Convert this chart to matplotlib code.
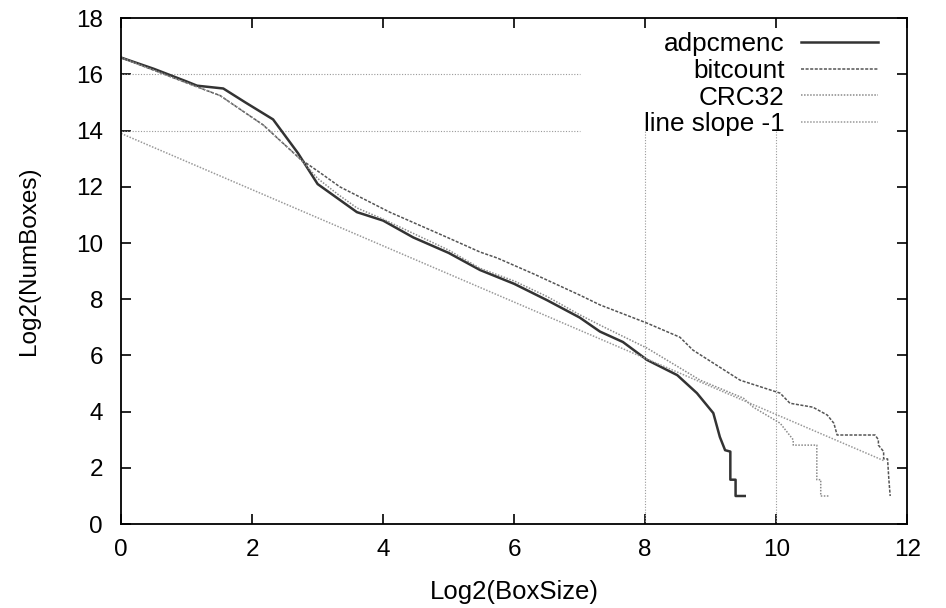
import matplotlib.pyplot as plt

plt.rcParams['font.family'] = ['Liberation Sans', 'DejaVu Sans']

# values
adpcmenc_x = [0, 0.5, 1.0, 1.16, 1.56, 1.9, 2.32, 2.7, 3.0, 3.3, 3.6, 4.0, 4.46, 5.0,
              5.48, 6.0, 6.5, 7.0, 7.31, 7.66, 8.03, 8.49, 8.79, 9.04, 9.14, 9.22,
              9.3, 9.3, 9.38, 9.38, 9.52]
adpcmenc_y = [16.6, 16.2, 15.75, 15.6, 15.5, 15.0, 14.4, 13.2, 12.1, 11.6, 11.1, 10.8,
              10.2, 9.65, 9.04, 8.55, 7.97, 7.35, 6.85, 6.48, 5.84, 5.3, 4.66, 3.95,
              3.1, 2.63, 2.58, 1.58, 1.58, 1.0, 1.0]

bitcount_x = [0, 0.5, 1.0, 1.51, 2.17, 2.73, 3.04, 3.34, 4.1, 4.98, 5.48, 5.74, 6.3,
              7.0, 7.31, 8.03, 8.53, 8.73, 9.45, 10.06, 10.21, 10.56, 10.78, 10.88,
              10.93, 11.51, 11.56, 11.56, 11.64, 11.64, 11.7, 11.72, 11.74]
bitcount_y = [16.6, 16.15, 15.7, 15.25, 14.2, 13.0, 12.5, 12.0, 11.1, 10.2, 9.68, 9.47,
              8.9, 8.15, 7.8, 7.15, 6.65, 6.19, 5.12, 4.66, 4.3, 4.16, 3.88, 3.59,
              3.17, 3.17, 3.0, 2.81, 2.58, 2.32, 2.32, 1.58, 1.0]

crc32_x = [0, 0.5, 1.0, 1.51, 2.17, 2.73, 3.0, 3.3, 3.6, 4.0, 4.5, 5.0, 5.48, 6.0,
           6.5, 7.0, 7.31, 8.03, 8.84, 9.5, 9.65, 10.06, 10.26, 10.26, 10.62, 10.62,
           10.68, 10.68, 10.8]
crc32_y = [16.6, 16.15, 15.7, 15.25, 14.2, 13.0, 12.3, 11.75, 11.25, 10.85, 10.3, 9.75,
           9.1, 8.65, 8.1, 7.45, 7.08, 6.26, 5.12, 4.48, 4.16, 3.59, 3.0, 2.81, 2.81,
           1.58, 1.58, 1.0, 1.0]

slope_x = [0, 11.65]
slope_y = [13.9, 2.25]

grid_y = [14, 16]
grid_x = [8, 10]

fig = plt.figure(figsize=(9.46, 6.08), dpi=100)
ax = fig.add_axes([0.128, 0.138, 0.831, 0.832])

ax.hlines(grid_y, 0, 7, colors='#999999', linestyles=(0, (1, 1.5)), linewidth=0.8)
ax.vlines(grid_x, 0, 14, colors='#999999', linestyles=(0, (1, 1.5)), linewidth=0.8)

ax.plot(adpcmenc_x, adpcmenc_y, color='#333333', linewidth=1.8, label='adpcmenc')
ax.plot(bitcount_x, bitcount_y, color='#555555', linewidth=1.1,
        linestyle=(0, (2, 1)), label='bitcount')
ax.plot(crc32_x, crc32_y, color='#8a8a8a', linewidth=1.1,
        linestyle=(0, (1, 1)), label='CRC32')
ax.plot(slope_x, slope_y, color='#999999', linewidth=1.1,
        linestyle=(0, (1, 1)), label='line slope -1')

ax.set_xlim(0, 12)
ax.set_ylim(0, 18)
ax.set_xticks(range(0, 13, 2))
ax.set_yticks(range(0, 19, 2))
ax.tick_params(direction='in', top=True, right=True, length=7, width=1.2,
               labelsize=17.5)
ax.tick_params(axis='x', pad=11)
ax.tick_params(axis='y', pad=13)
for s in ax.spines.values():
    s.set_linewidth(1.3)

ax.set_xlabel('Log2(BoxSize)', fontsize=18.5)
ax.set_ylabel('Log2(NumBoxes)', fontsize=17.5)
ax.xaxis.set_label_coords(0.5, -0.11)
ax.yaxis.set_label_coords(-0.103, 0.52)

ax.legend(loc='upper right', bbox_to_anchor=(0.963, 0.972), frameon=False,
          markerfirst=False, handlelength=2.96, fontsize=18.8, labelspacing=0.1,
          handletextpad=0.62, borderaxespad=0, borderpad=0)

plt.savefig('out.png')
plt.close()
